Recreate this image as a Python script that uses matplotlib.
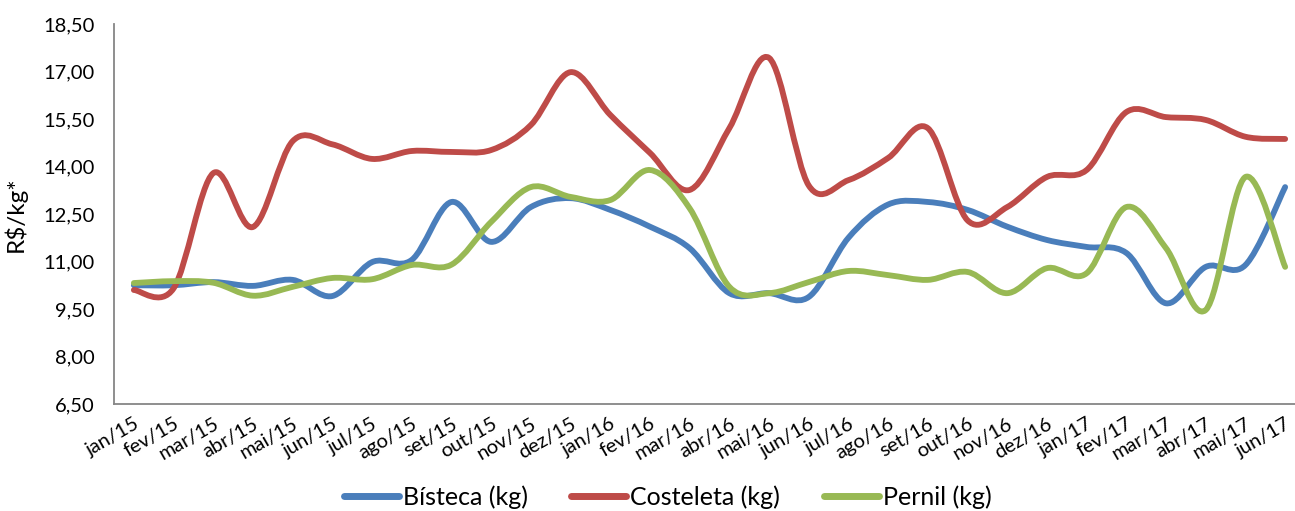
import matplotlib.pyplot as plt
from matplotlib.path import Path
from matplotlib.patches import PathPatch
from matplotlib.lines import Line2D
import numpy as np

months = ["jan/15", "fev/15", "mar/15", "abr/15", "mai/15", "jun/15", "jul/15", "ago/15",
          "set/15", "out/15", "nov/15", "dez/15", "jan/16", "fev/16", "mar/16", "abr/16",
          "mai/16", "jun/16", "jul/16", "ago/16", "set/16", "out/16", "nov/16", "dez/16",
          "jan/17", "fev/17", "mar/17", "abr/17", "mai/17", "jun/17"]

bisteca = [10.25, 10.25, 10.35, 10.23, 10.42, 9.91, 10.98, 11.05, 12.88, 11.62,
           12.72, 13.00, 12.63, 12.10, 11.42, 10.00, 10.00, 9.88, 11.75, 12.80,
           12.88, 12.63, 12.10, 11.68, 11.46, 11.27, 9.68, 10.83, 10.89, 13.35]
costeleta = [10.10, 10.15, 13.79, 12.09, 14.80, 14.70, 14.24, 14.49, 14.46, 14.52,
             15.31, 16.98, 15.63, 14.43, 13.26, 15.21, 17.43, 13.40, 13.57, 14.27,
             15.21, 12.30, 12.72, 13.67, 13.89, 15.72, 15.56, 15.47, 14.94, 14.87]
pernil = [10.32, 10.38, 10.33, 9.92, 10.20, 10.48, 10.44, 10.89, 10.90, 12.25,
          13.35, 13.04, 12.94, 13.89, 12.68, 10.20, 10.00, 10.35, 10.70, 10.57,
          10.42, 10.67, 10.00, 10.79, 10.63, 12.72, 11.42, 9.47, 13.67, 10.83]

names = ["Bísteca (kg)", "Costeleta (kg)", "Pernil (kg)"]
colors = ["#4A7EBB", "#BE4B48", "#98B954"]
yticks = [6.5, 8.0, 9.5, 11.0, 12.5, 14.0, 15.5, 17.0, 18.5]

plt.rcParams['font.family'] = ['Lato', 'DejaVu Sans']


def smooth_path(xs, ys):
    # Excel-like smoothing: cubic bezier with catmull-rom control points
    pts = np.column_stack([xs, ys]).astype(float)
    verts = [pts[0]]
    codes = [Path.MOVETO]
    n = len(pts)
    for i in range(n - 1):
        p0 = pts[i - 1] if i > 0 else pts[i]
        p1 = pts[i]
        p2 = pts[i + 1]
        p3 = pts[i + 2] if i + 2 < n else pts[i + 1]
        c1 = p1 + (p2 - p0) / 6.0
        c2 = p2 - (p3 - p1) / 6.0
        verts += [c1, c2, p2]
        codes += [Path.CURVE4] * 3
    return Path(verts, codes)


fig = plt.figure(figsize=(12.95, 5.11), dpi=100)
ax = fig.add_axes([114 / 1295, 0.2094, 1191 / 1295, 0.7436])

x = np.arange(len(months))
for series, color in zip([bisteca, costeleta, pernil], colors):
    patch = PathPatch(smooth_path(x, series), facecolor='none', edgecolor=color,
                      linewidth=4.2, capstyle='round', joinstyle='round')
    ax.add_patch(patch)

ax.set_xlim(-0.5, len(months) - 0.5)
ax.set_ylim(6.5, 18.5)
ax.set_yticks(yticks)
ax.set_yticklabels([("%.2f" % v).replace(".", ",") for v in yticks], fontsize=14.5)
ax.set_xticks(x)
ax.set_xticklabels(months, fontsize=14.5, rotation=30, ha='right', rotation_mode='anchor')
ax.tick_params(axis='both', length=0, colors='black')
ax.tick_params(axis='y', pad=14)
ax.tick_params(axis='x', pad=8)

for side in ['top', 'right']:
    ax.spines[side].set_visible(False)
for side in ['left', 'bottom']:
    ax.spines[side].set_color('#868686')
    ax.spines[side].set_linewidth(1.3)

ax.set_ylabel("R$/kg*", fontsize=17.5, labelpad=12)

handles = [Line2D([], [], color=c, linewidth=5, solid_capstyle='round') for c in colors]
fig.legend(handles, names, loc='center', bbox_to_anchor=(0.5155, 0.027), ncol=3,
           frameon=False, fontsize=18, handlelength=2.2, handletextpad=0.15,
           columnspacing=1.75)

fig.savefig("out.png", dpi=100)
